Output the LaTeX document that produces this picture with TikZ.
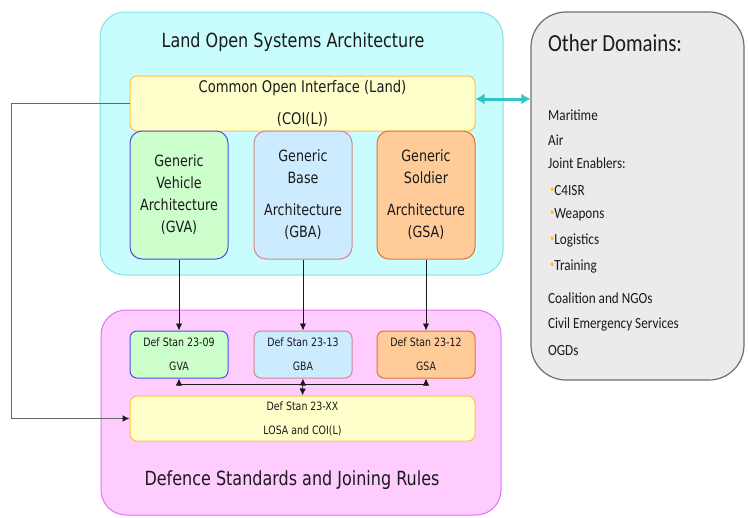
\documentclass[tikz,border=0pt]{standalone}
\usepackage{fontspec}
\setmainfont{DejaVu Sans}[FakeStretch=0.82]
\newfontfamily\odfont{Carlito}[FakeStretch=0.85]
\usetikzlibrary{arrows.meta}

\definecolor{lsafill}{HTML}{C9FCFC}
\definecolor{lsaline}{HTML}{7FE2E6}
\definecolor{coifill}{HTML}{FFFFCC}
\definecolor{coiline}{HTML}{FFC04D}
\definecolor{gvafill}{HTML}{CCFFCC}
\definecolor{gvaline}{HTML}{4D4DEB}
\definecolor{gbafill}{HTML}{CCEBFF}
\definecolor{gbaline}{HTML}{D08A8A}
\definecolor{gsafill}{HTML}{FFCC99}
\definecolor{gsaline}{HTML}{E07535}
\definecolor{dsrfill}{HTML}{FFCCFF}
\definecolor{dsrline}{HTML}{E070FF}
\definecolor{odfill}{HTML}{EBEBEB}
\definecolor{odline}{HTML}{6E6E6E}
\definecolor{linkteal}{HTML}{33C3C8}
\definecolor{loopgray}{HTML}{666666}
\definecolor{bulletc}{HTML}{FFC000}
\definecolor{ink}{HTML}{1A1A1A}

% small orange bullet for the sub-list
\newcommand{\odbullet}{\raisebox{2.5pt}{\color{bulletc}\fontsize{10}{10}\selectfont•}}

\tikzset{
  panel/.style={draw, line width=1pt, rounded corners=#1, inner sep=0pt, text=ink},
  panel/.default=12pt,
  archtext/.style={font=\fontsize{15.5}{22}\selectfont, align=center, text=ink},
  stdtext/.style={font=\fontsize{11.5}{24}\selectfont, align=center, text=ink},
  bigtitle/.style={font=\fontsize{19.5}{24}\selectfont, text=ink, anchor=base},
  oditem/.style={font=\odfont\fontsize{15.5}{18}\selectfont, text=ink, anchor=base west, inner sep=0pt},
  down/.style={draw=ink, line width=0.9pt, -{Latex[length=7pt,width=6.5pt]}},
  both/.style={draw=ink, line width=0.9pt, {Latex[length=7pt,width=6.5pt]}-{Latex[length=7pt,width=6.5pt]}},
}

\begin{document}
\begin{tikzpicture}[x=1pt, y=-1pt]
\useasboundingbox (0,0) rectangle (749,517);

% Land Open Systems Architecture panel
\node[panel=25pt, fill=lsafill, draw=lsaline, minimum width=403pt, minimum height=263pt] (lsa) at (301.5,143.5) {};
\node[bigtitle] (lsatitle) at (293,47) {Land Open Systems Architecture};

% Common Open Interface bar
\node[panel=7pt, fill=coifill, draw=coiline, minimum width=345pt, minimum height=55pt,
      font=\fontsize{16}{32}\selectfont, align=center] (coi) at (302.5,103.5)
      {Common Open Interface (Land)\\(COI(L))};

% Generic architectures
\node[panel, fill=gvafill, draw=gvaline, minimum width=98pt, minimum height=128pt, archtext] (gva) at (179,195)
      {Generic\\Vehicle\\Architecture\\(GVA)};
\node[panel, fill=gbafill, draw=gbaline, minimum width=98pt, minimum height=128pt, archtext] (gba) at (303,195)
      {Generic\\Base\\[10pt]Architecture\\(GBA)};
\node[panel, fill=gsafill, draw=gsaline, minimum width=98pt, minimum height=128pt, archtext] (gsa) at (426,195)
      {Generic\\Soldier\\[10pt]Architecture\\(GSA)};

% Defence Standards panel
\node[panel=25pt, fill=dsrfill, draw=dsrline, minimum width=400pt, minimum height=205pt] (dsr) at (301,412.5) {};
\node[bigtitle] (dsrtitle) at (292,485) {Defence Standards and Joining Rules};

\node[panel=7pt, fill=gvafill, draw=gvaline, minimum width=98pt, minimum height=47pt, stdtext] (ds1) at (179,354.5)
      {Def Stan 23-09\\GVA};
\node[panel=7pt, fill=gbafill, draw=gbaline, minimum width=98pt, minimum height=47pt, stdtext] (ds2) at (303,354.5)
      {Def Stan 23-13\\GBA};
\node[panel=7pt, fill=gsafill, draw=gsaline, minimum width=98pt, minimum height=47pt, stdtext] (ds3) at (426,354.5)
      {Def Stan 23-12\\GSA};
\node[panel=7pt, fill=coifill, draw=coiline, minimum width=345pt, minimum height=45pt, stdtext] (losa) at (302.5,418.5)
      {Def Stan 23-XX\\LOSA and COI(L)};

% Other domains panel
\node[panel=35pt, fill=odfill, draw=odline, line width=1.2pt, minimum width=213pt, minimum height=368pt] (other) at (637.5,196) {};
\node[oditem, font=\odfont\fontsize{24.5}{28}\selectfont] (odtitle) at (548,51) {Other Domains:};
\node[oditem] (od1) at (548,120) {Maritime};
\node[oditem] (od2) at (548,145) {Air};
\node[oditem] (od3) at (548,168) {Joint Enablers:};
\node[oditem] (od4) at (550,195) {\odbullet C4ISR};
\node[oditem] (od5) at (550,218) {\odbullet Weapons};
\node[oditem] (od6) at (550,244) {\odbullet Logistics};
\node[oditem] (od7) at (550,270) {\odbullet Training};
\node[oditem] (od8) at (548,303) {Coalition and NGOs};
\node[oditem] (od9) at (548,328) {Civil Emergency Services};
\node[oditem] (od10) at (548,355) {OGDs};

% Connectors
\draw[down] (gva.south) -- (ds1.north);
\draw[down] (gba.south) -- (ds2.north);
\draw[down] (gsa.south) -- (ds3.north);
\draw[both] (ds1.south) -- ++(0,6) -| (ds3.south);
\draw[both] (ds2.south) -- (losa.north);
\draw[draw=loopgray, line width=1.5pt, -{Latex[length=7pt,width=7pt,color=ink]}]
      (coi.west) -- ++(-118,0) |- (losa.west);
\coordinate (tealstart) at ([yshift=4.5pt]coi.east);
\draw[draw=linkteal, line width=3pt, {Latex[length=9pt,width=11pt]}-{Latex[length=9pt,width=11pt]}]
      (tealstart) -- (tealstart -| other.west);
\end{tikzpicture}
\end{document}
